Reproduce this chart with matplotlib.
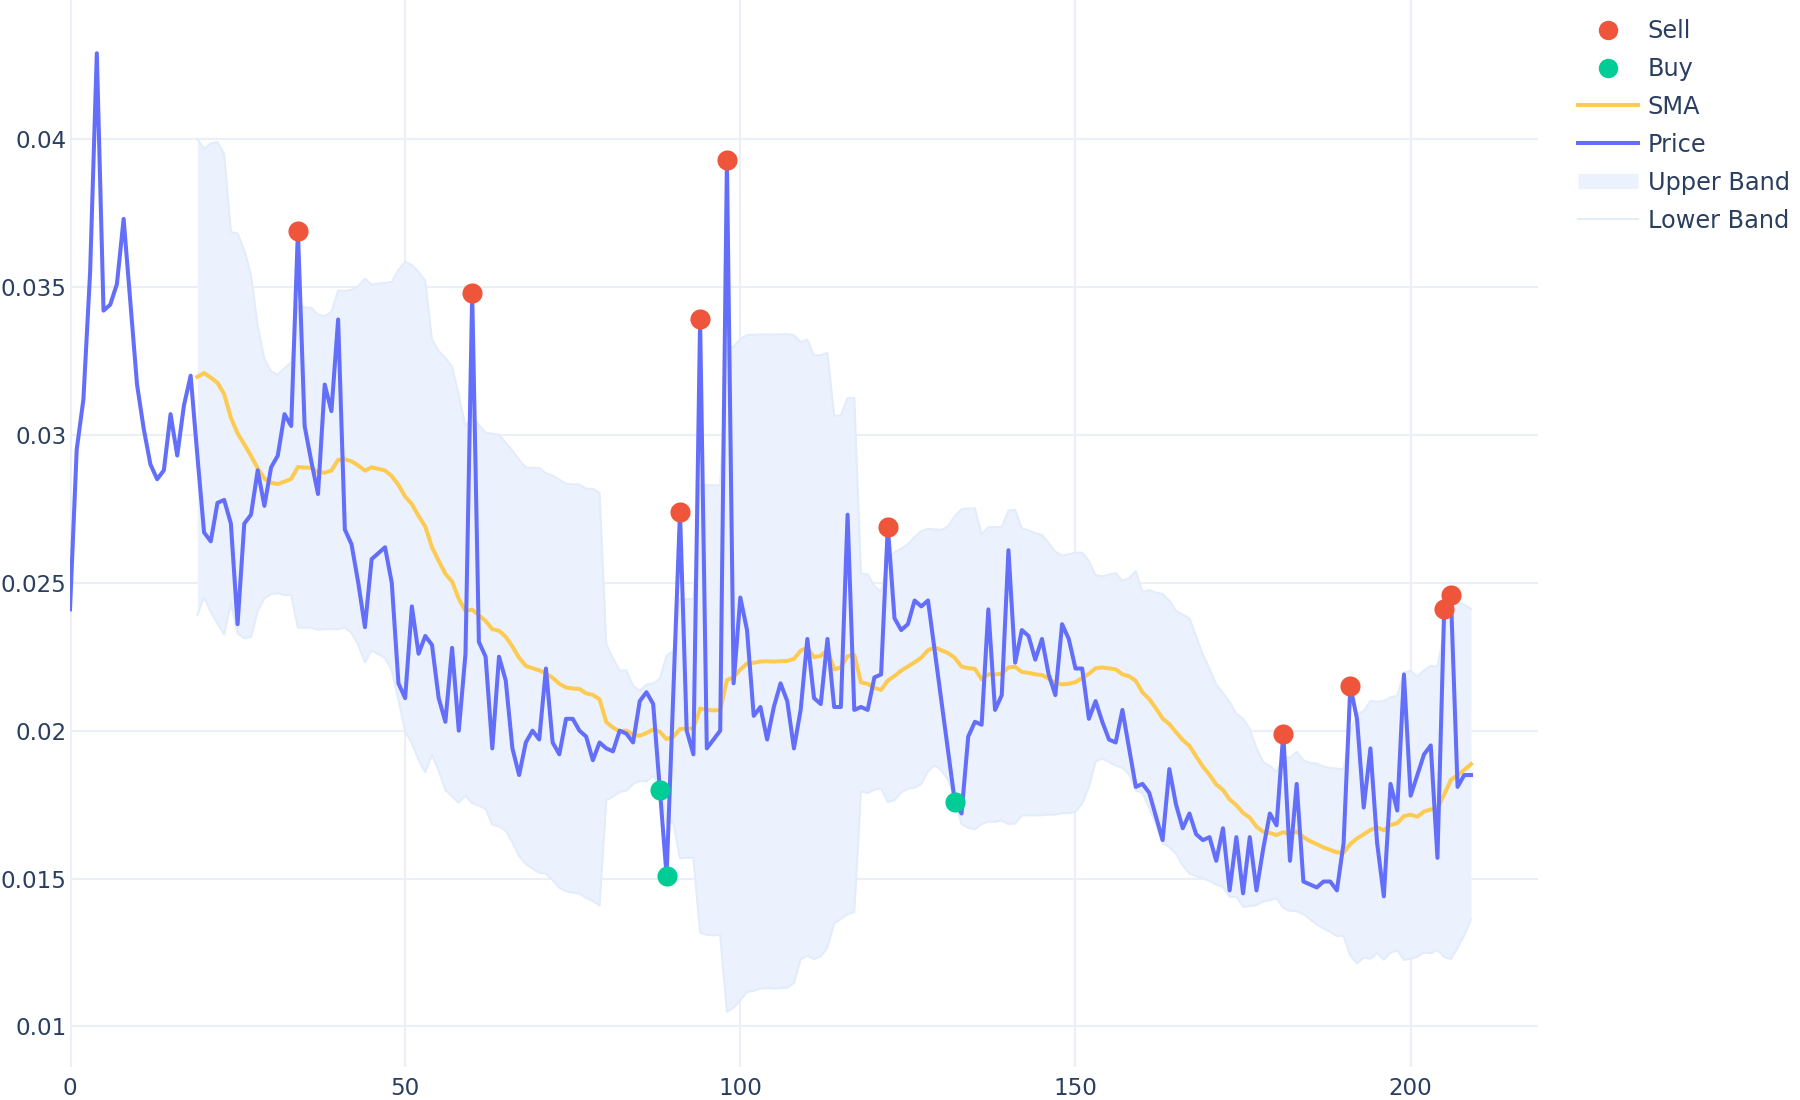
"""Price with SMA(20) and Bollinger bands, buy/sell signals (plotly_white look)."""
import numpy as np
import pandas as pd
import matplotlib
matplotlib.use("Agg")
import matplotlib.pyplot as plt
from matplotlib.lines import Line2D

# price, one value per step (x = 0 .. 209)
price = [
    0.0241, 0.0295, 0.0312, 0.0355, 0.0429, 0.0342, 0.0344, 0.0351, 0.0373, 0.0345,
    0.0317, 0.0302, 0.0290, 0.0285, 0.0288, 0.0307, 0.0293, 0.0310, 0.0320, 0.0293,
    0.0267, 0.0264, 0.0277, 0.0278, 0.0270, 0.0236, 0.0270, 0.0273, 0.0288, 0.0276,
    0.0289, 0.0293, 0.0307, 0.0303, 0.0369, 0.0303, 0.0291, 0.0280, 0.0317, 0.0308,
    0.0339, 0.0268, 0.0263, 0.0250, 0.0235, 0.0258, 0.0260, 0.0262, 0.0250, 0.0216,
    0.0211, 0.0242, 0.0226, 0.0232, 0.0229, 0.0211, 0.0203, 0.0228, 0.0200, 0.0226,
    0.0348, 0.0230, 0.0225, 0.0194, 0.0225, 0.0217, 0.0194, 0.0185, 0.0196, 0.0200,
    0.0197, 0.0221, 0.0196, 0.0192, 0.0204, 0.0204, 0.0200, 0.0198, 0.0190, 0.0196,
    0.0194, 0.0193, 0.0200, 0.0199, 0.0196, 0.0210, 0.0213, 0.0209, 0.0180, 0.0151,
    0.0212, 0.0274, 0.0200, 0.0192, 0.0339, 0.0194, 0.0197, 0.0200, 0.0393, 0.0216,
    0.0245, 0.0234, 0.0205, 0.0208, 0.0197, 0.0208, 0.0216, 0.0210, 0.0194, 0.0207,
    0.0231, 0.0211, 0.0209, 0.0231, 0.0208, 0.0208, 0.0273, 0.0207, 0.0208, 0.0207,
    0.0218, 0.0219, 0.0269, 0.0238, 0.0234, 0.0236, 0.0244, 0.0242, 0.0244, 0.0227,
    0.0210, 0.0193, 0.0176, 0.0172, 0.0198, 0.0203, 0.0202, 0.0241, 0.0207, 0.0212,
    0.0261, 0.0223, 0.0234, 0.0232, 0.0224, 0.0231, 0.0219, 0.0212, 0.0236, 0.0231,
    0.0221, 0.0221, 0.0204, 0.0210, 0.0203, 0.0197, 0.0196, 0.0207, 0.0194, 0.0181,
    0.0182, 0.0179, 0.0171, 0.0163, 0.0187, 0.0175, 0.0167, 0.0172, 0.0165, 0.0163,
    0.0164, 0.0156, 0.0167, 0.0146, 0.0164, 0.0145, 0.0164, 0.0146, 0.0160, 0.0172,
    0.0168, 0.0199, 0.0156, 0.0182, 0.0149, 0.0148, 0.0147, 0.0149, 0.0149, 0.0146,
    0.0162, 0.0215, 0.0204, 0.0174, 0.0194, 0.0162, 0.0144, 0.0182, 0.0173, 0.0219,
    0.0178, 0.0185, 0.0192, 0.0195, 0.0157, 0.0241, 0.0246, 0.0181, 0.0185, 0.0185,
]
sell_idx = [34, 60, 91, 94, 98, 122, 181, 191, 205, 206]
buy_idx = [88, 89, 132]
window = 20

PRICE_C = "#636EFA"
SMA_C = "#FECB52"
SELL_C = "#EF553B"
BUY_C = "#00CC96"
GRID_C = "#EBF0F8"
FILL_C = "#EBF2FD"
BAND_C = "#E3ECFA"
TEXT_C = "#2A3F5F"

s = pd.Series(price)
x = np.arange(len(s))
sma = s.rolling(window).mean()
std = s.rolling(window).std()
upper = sma + 2 * std
lower = sma - 2 * std

plt.rcParams["font.family"] = ["DejaVu Sans"]

fig = plt.figure(figsize=(18, 11), dpi=100)
ax = fig.add_axes([70 / 1800, 1 - 1067 / 1100, (1538 - 70) / 1800, 1067 / 1100])

ax.fill_between(x, lower, upper, color=FILL_C, lw=0, zorder=1)
ax.plot(x, upper, color=BAND_C, lw=1.5, zorder=2)
ax.plot(x, lower, color=BAND_C, lw=1.5, zorder=2)
ax.plot(x, sma, color=SMA_C, lw=2.9, zorder=3, solid_joinstyle="round")
ax.plot(x, s, color=PRICE_C, lw=2.9, zorder=4, solid_joinstyle="round")
ax.scatter(sell_idx, s[sell_idx], s=210, color=SELL_C, lw=0, zorder=5)
ax.scatter(buy_idx, s[buy_idx], s=210, color=BUY_C, lw=0, zorder=5)

ax.set_xlim(0, 219)
ax.set_ylim(0.00863, 0.0447)
ax.set_xticks([0, 50, 100, 150, 200])
ax.set_yticks([0.01, 0.015, 0.02, 0.025, 0.03, 0.035, 0.04])
ax.set_yticklabels(["0.01", "0.015", "0.02", "0.025", "0.03", "0.035", "0.04"])
ax.grid(True, color=GRID_C, lw=1.5, zorder=0)
ax.set_axisbelow(True)
ax.axvline(0, color=GRID_C, lw=2.9, zorder=0.5)
for sp in ax.spines.values():
    sp.set_visible(False)
ax.tick_params(length=0, labelsize=16.6, colors=TEXT_C)
ax.tick_params(axis="y", pad=2.5)
ax.tick_params(axis="x", pad=7)

handles = [
    Line2D([], [], ls="", marker="o", ms=14, color=SELL_C, mec="none"),
    Line2D([], [], ls="", marker="o", ms=14, color=BUY_C, mec="none"),
    Line2D([], [], color=SMA_C, lw=2.9),
    Line2D([], [], color=PRICE_C, lw=2.9),
    Line2D([], [], color=FILL_C, lw=11, solid_capstyle="butt"),
    Line2D([], [], color=BAND_C, lw=1.5),
]
labels = ["Sell", "Buy", "SMA", "Price", "Upper Band", "Lower Band"]
leg = fig.legend(handles, labels, loc="upper left", bbox_to_anchor=(1578 / 1800, 1 - 19 / 1100),
                 frameon=False, fontsize=17.3, handlelength=2.5, handletextpad=0.4,
                 labelspacing=0.58, borderaxespad=0, borderpad=0)
for t in leg.get_texts():
    t.set_color(TEXT_C)

fig.savefig("out.png", dpi=100)
